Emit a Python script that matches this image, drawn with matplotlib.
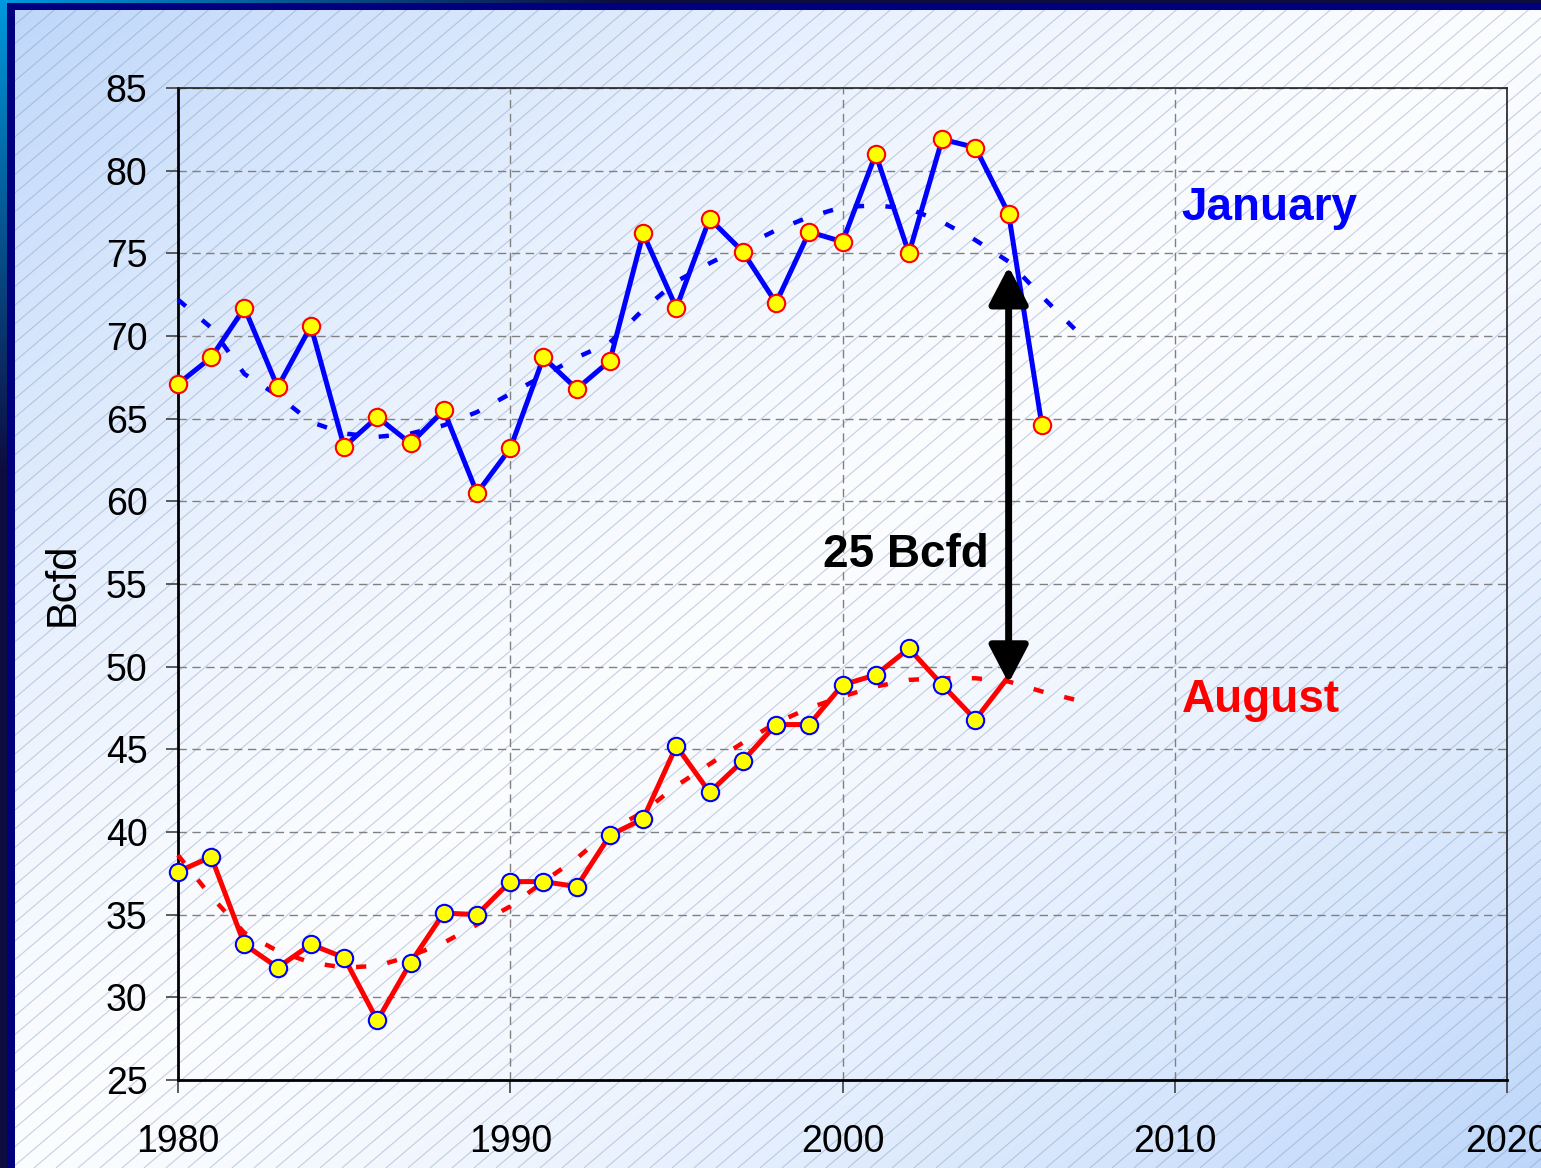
import numpy as np
import matplotlib
matplotlib.use("Agg")
import matplotlib.pyplot as plt
from matplotlib.collections import LineCollection
from matplotlib.patches import FancyArrowPatch

plt.rcParams['font.family'] = ['Liberation Sans', 'DejaVu Sans']

# --- data ---
years = list(range(1980, 2007))
january = [67.1, 68.7, 71.7, 66.9, 70.6, 63.3, 65.1, 63.5, 65.5, 60.5,
           63.2, 68.7, 66.8, 68.5, 76.2, 71.7, 77.1, 75.1, 72.0, 76.3,
           75.7, 81.0, 75.0, 81.9, 81.4, 77.4, 64.6]
aug_years = list(range(1980, 2006))
august = [37.6, 38.5, 33.2, 31.8, 33.2, 32.4, 28.6, 32.1, 35.1, 35.0,
          37.0, 37.0, 36.7, 39.8, 40.8, 45.2, 42.4, 44.3, 46.5, 46.5,
          48.9, 49.5, 51.1, 48.9, 46.8, 49.4]
aug_marker_n = 25  # no marker shown for 2005

trend_years = list(range(1980, 2008))
jan_trend = [72.2, 70.5, 67.7, 66.4, 64.8, 64.1, 63.9, 64.1, 64.6, 65.4,
             66.5, 67.6, 68.7, 69.6, 71.6, 73.3, 74.4, 75.4, 76.4, 77.2,
             77.8, 77.9, 77.7, 76.9, 75.8, 74.5, 72.4, 70.4]
aug_trend = [38.6, 36.1, 33.9, 32.8, 32.1, 31.8, 31.9, 32.5, 33.3, 34.4,
             35.5, 37.0, 38.4, 40.1, 41.2, 42.8, 44.1, 45.4, 46.6, 47.5,
             48.2, 48.8, 49.2, 49.3, 49.3, 49.1, 48.5, 48.0]

xticks = [1980, 1990, 2000, 2010, 2020]
yticks = list(range(25, 90, 5))

W, H = 1541, 1168
fig = plt.figure(figsize=(W / 100, H / 100), dpi=100)

# background: diagonal gradient, frame, hatch
bg = fig.add_axes([0, 0, 1, 1])
bg.axis('off')
xx, yy = np.meshgrid(np.arange(W) / W, np.arange(H) / H)
t = (xx + yy) / 2
s = np.clip(np.abs(t - 0.5) * 2, 0, 1) ** 1.4
white = np.array([0.985, 0.99, 1.0])
blue = np.array([0.74, 0.84, 0.98])
img = white * (1 - s[..., None]) + blue * s[..., None]
# frame
img[3:10, :, :] = [0.0, 0.0, 0.5]
img[:, 7:15, :] = [0.0, 0.0, 0.5]
d = np.clip(np.sqrt(xx ** 2 + yy ** 2) * 2.5, 0, 1)[..., None]
cyan = np.array([0.0, 0.6, 0.87])
dark = np.array([0.05, 0.05, 0.25])
outer = cyan * (1 - d) + dark * d
img[0:3, :, :] = outer[0:3, :, :]
img[:, 0:7, :] = outer[:, 0:7, :]
bg.imshow(img, extent=(0, W, H, 0), aspect='auto', zorder=0)
slope = 0.85
segs = []
for x0 in np.arange(-H / slope, W, 22):
    segs.append([(x0, H), (x0 + H / slope, 0)])
hatch = LineCollection(segs, colors=[(0.5, 0.58, 0.72)], linewidths=0.8,
                       alpha=0.42, zorder=1)
bg.add_collection(hatch)
bg.imshow(img[:10, :, :], extent=(0, W, 10, 0), aspect='auto', zorder=2)
bg.imshow(img[:, :15, :], extent=(0, 15, H, 0), aspect='auto', zorder=2)
bg.set_xlim(0, W)
bg.set_ylim(H, 0)

ax = fig.add_axes([178 / W, 1 - 1080 / H, (1507 - 178) / W, (1080 - 88) / H])
ax.set_facecolor('none')
ax.set_xlim(1980, 2020)
ax.set_ylim(25, 85)

ax.grid(True, color='#808080', linestyle=(0, (6, 4)), linewidth=1.0)
ax.set_axisbelow(True)

ax.plot(trend_years, jan_trend, color='#0000ff', lw=3.2, linestyle=(0, (2.3, 4.8)),
        clip_on=False, zorder=3, dash_capstyle='butt')
ax.plot(trend_years, aug_trend, color='#ff0000', lw=3.2, linestyle=(0, (2.3, 4.8)),
        clip_on=False, zorder=3, dash_capstyle='butt')

ax.plot(years, january, color='#0000ff', lw=3.6, clip_on=False, zorder=4)
ax.plot(years, january, linestyle='none', marker='o', markersize=12.5,
        markerfacecolor='#ffff00', markeredgecolor='#ff0000',
        markeredgewidth=1.5, clip_on=False, zorder=5)
ax.plot(aug_years, august, color='#ff0000', lw=3.6, clip_on=False, zorder=4)
ax.plot(aug_years[:aug_marker_n], august[:aug_marker_n], linestyle='none',
        marker='o', markersize=12.5, markerfacecolor='#ffff00',
        markeredgecolor='#0000ff', markeredgewidth=1.5, clip_on=False, zorder=5)

arrow = FancyArrowPatch((2005, 49.0), (2005, 74.2),
                        arrowstyle='<|-|>,head_length=1.15,head_width=0.6',
                        mutation_scale=20, color='black', lw=5,
                        shrinkA=0, shrinkB=0, zorder=6)
ax.add_patch(arrow)

ax.text(2010.2, 77.0, 'January', color='#0000ff', fontsize=33,
        fontweight='bold', va='baseline', ha='left', zorder=7)
ax.text(2010.2, 47.25, 'August', color='#ff0000', fontsize=33,
        fontweight='bold', va='baseline', ha='left', zorder=7)
ax.text(1999.4, 56.0, '25 Bcfd', color='black', fontsize=33,
        fontweight='bold', va='baseline', ha='left', zorder=7)

ax.set_xticks(xticks)
ax.set_yticks(yticks)
ax.tick_params(axis='both', labelsize=27, direction='out', length=9,
               width=1.2, color='#404040')
ax.tick_params(axis='y', pad=13)
ax.tick_params(axis='x', pad=23)
for side in ['left', 'bottom']:
    ax.spines[side].set_linewidth(2)
    ax.spines[side].set_color('black')
for side in ['top', 'right']:
    ax.spines[side].set_linewidth(1.2)
    ax.spines[side].set_color('#202020')

ax.set_ylabel('Bcfd', fontsize=30)
ax.yaxis.set_label_coords(-0.072, 0.5)

fig.savefig('out.png', dpi=100)
